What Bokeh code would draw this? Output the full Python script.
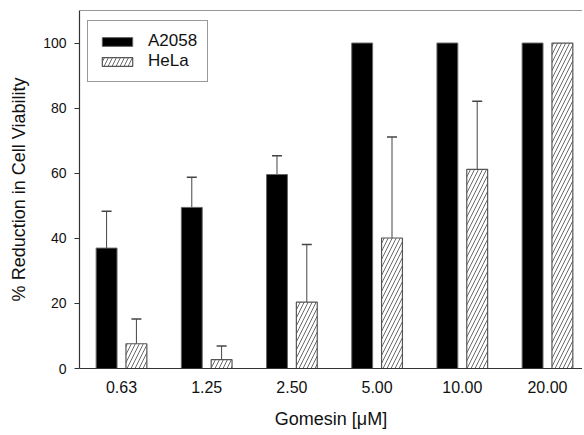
import numpy as np
from bokeh.plotting import figure
from bokeh.models import (ColumnDataSource, Whisker, TeeHead, Span, FixedTicker,
                          Range1d, Legend, LegendItem)
from bokeh.embed import file_html
from bokeh.resources import INLINE

# ---- data ----
concentrations = ["0.63", "1.25", "2.50", "5.00", "10.00", "20.00"]
a2058 = [37.0, 49.5, 59.6, 100.0, 100.0, 100.0]
a2058_err = [11.3, 9.3, 5.8, None, None, None]
hela = [7.6, 2.7, 20.4, 40.1, 61.2, 100.0]
hela_err = [7.6, 4.2, 17.7, 31.0, 20.9, None]
y_ticks = [0, 20, 40, 60, 80, 100]

FONT = "Liberation Sans"
pos = np.arange(1, len(concentrations) + 1)
off = 0.175
bw = 0.245

p = figure(width=582, height=433, output_backend="svg", toolbar_location=None,
           x_range=Range1d(0.507, 6.411), y_range=Range1d(0, 110),
           min_border_left=79, min_border_right=0, min_border_top=10,
           min_border_bottom=65)
p.outline_line_color = None
p.grid.grid_line_color = None
p.background_fill_color = "white"

src_a = ColumnDataSource(dict(x=pos - off, top=a2058))
src_h = ColumnDataSource(dict(x=pos + off, top=hela))

ea = [(x, t, e) for x, t, e in zip(pos - off, a2058, a2058_err) if e is not None]
eh = [(x, t, e) for x, t, e in zip(pos + off, hela, hela_err) if e is not None]
src_ea = ColumnDataSource(dict(x=[v[0] for v in ea], lo=[v[1] for v in ea],
                               up=[v[1] + v[2] for v in ea]))
src_eh = ColumnDataSource(dict(x=[v[0] for v in eh], lo=[v[1] for v in eh],
                               up=[v[1] + v[2] for v in eh]))

for s in (src_ea, src_eh):
    w = Whisker(source=s, base="x", lower="lo", upper="up", dimension="height",
                line_color="#444444", line_width=1,
                lower_head=None,
                upper_head=TeeHead(size=10, line_color="#444444", line_width=1.5))
    p.add_layout(w)

ra = p.vbar(x="x", top="top", width=bw, source=src_a, fill_color="black",
            line_color="#666666", line_width=1)
rh = p.vbar(x="x", top="top", width=bw, source=src_h, fill_color="white",
            line_color="#555555", line_width=1.2, hatch_pattern="/",
            hatch_color="#444444", hatch_weight=0.8, hatch_scale=8)

# top border
p.add_layout(Span(location=110, dimension="width", line_color="#333333",
                  line_width=1.2))

# axes
p.xaxis.ticker = FixedTicker(ticks=list(pos))
p.xaxis.major_label_overrides = {int(k): v for k, v in zip(pos, concentrations)}
p.xaxis.major_tick_out = 0
p.xaxis.minor_tick_line_color = None
p.xaxis.major_label_standoff = 12
p.xaxis.axis_label = "Gomesin [\u03bcM]"
p.xaxis.axis_label_standoff = 13

p.yaxis.ticker = FixedTicker(ticks=y_ticks)
p.yaxis.major_tick_out = 5
p.yaxis.major_tick_in = 0
p.yaxis.minor_tick_line_color = None
p.yaxis.major_label_standoff = 8
p.yaxis.axis_label = "% Reduction in Cell Viability"
p.yaxis.axis_label_standoff = 11

for ax in (p.xaxis, p.yaxis):
    ax.axis_line_color = "#333333"
    ax.axis_line_width = 1.2
    ax.major_label_text_font = FONT
    ax.major_label_text_color = "#111111"
    ax.axis_label_text_font = FONT
    ax.axis_label_text_font_style = "normal"
    ax.axis_label_text_color = "#111111"
    ax.axis_label_text_font_size = "18px"
p.xaxis.major_tick_line_color = None
p.yaxis.major_tick_line_color = "#333333"
p.xaxis.major_label_text_font_size = "16px"
p.yaxis.major_label_text_font_size = "14px"

legend = Legend(items=[LegendItem(label="A2058", renderers=[ra]),
                       LegendItem(label="HeLa", renderers=[rh])],
                location=(8, 286))
legend.label_text_font = FONT
legend.label_text_font_size = "17px"
legend.label_text_color = "#111111"
legend.border_line_color = "#333333"
legend.border_line_width = 1.2
legend.glyph_width = 38
legend.glyph_height = 11
legend.label_standoff = 12
legend.padding = 10
legend.spacing = 0
legend.margin = 0
legend.background_fill_alpha = 1
p.add_layout(legend)

open("out.html", "w").write(file_html(p, INLINE))
